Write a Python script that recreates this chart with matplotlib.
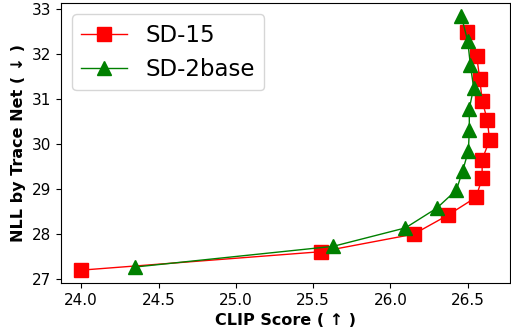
import numpy as np
import matplotlib
matplotlib.use('Agg')
import matplotlib.pyplot as plt

sd15_clip = [24.0, 25.55, 26.15, 26.37, 26.553, 26.593, 26.593, 26.641, 26.627, 26.593, 26.578, 26.557, 26.494]
sd15_nll = [27.19, 27.6, 27.99, 28.41, 28.81, 29.23, 29.65, 30.08, 30.52, 30.96, 31.44, 31.96, 32.48]

sd2_clip = [24.35, 25.63, 26.097, 26.3, 26.426, 26.466, 26.504, 26.51, 26.51, 26.538, 26.517, 26.5, 26.458]
sd2_nll = [27.26, 27.72, 28.13, 28.57, 28.97, 29.39, 29.84, 30.3, 30.78, 31.25, 31.75, 32.28, 32.85]

fig = plt.figure(figsize=(5.11, 3.32), dpi=100)
ax = fig.add_axes([0.119, 0.148, 0.879, 0.843])

ax.plot(sd15_clip, sd15_nll, color='red', marker='s', markersize=10, linewidth=1, label='SD-15')
ax.plot(sd2_clip, sd2_nll, color='green', marker='^', markersize=10, linewidth=1, label='SD-2base')

ax.set_xlabel('CLIP Score ( ↑ )', fontsize=11.5, fontweight='bold')
ax.set_ylabel('NLL by Trace Net ( ↓ )', fontsize=11.5, fontweight='bold')
ax.tick_params(labelsize=11)
ax.legend(loc='upper left', fontsize=16.5)

fig.savefig('out.png', dpi=100)
